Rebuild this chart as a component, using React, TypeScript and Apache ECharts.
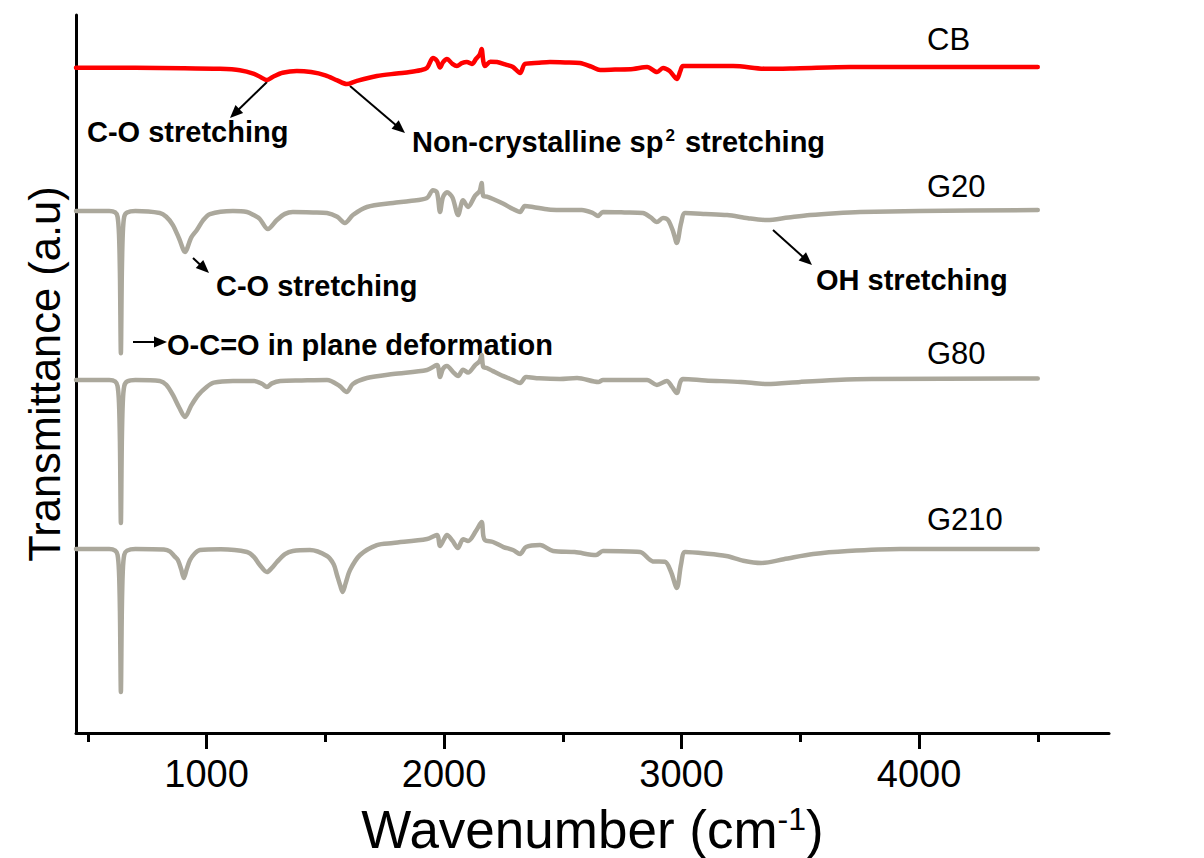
import React, { useEffect, useRef } from "react";
import * as echarts from "echarts";

// ---------- data ----------
const majorTicks = [1000, 2000, 3000, 4000];
const minorTicks = [500, 1500, 2500, 3500, 4500];
const seriesNames = ["CB", "G20", "G80", "G210"];

const cb: number[][] = [
  [450, 92.66], [700, 92.64], [900, 92.6], [1056, 92.5], [1140, 92.3], [1200, 91.8], [1230, 91.3],
  [1253, 90.95], [1280, 91.4], [1320, 91.95], [1380, 92.2], [1440, 92.05], [1500, 91.6], [1550, 90.9],
  [1590, 90.39], [1630, 90.8], [1717, 91.5], [1800, 91.85], [1856, 92.06], [1900, 92.3], [1928, 92.62],
  [1953, 94.0], [1970, 93.6], [1983, 92.7], [1995, 93.4], [2012, 93.87], [2035, 93.2], [2054, 92.9],
  [2075, 93.3], [2096, 93.45], [2117, 93.18], [2135, 93.9], [2150, 94.5], [2158, 95.26], [2165, 93.6],
  [2172, 92.9], [2195, 93.5], [2223, 93.45], [2260, 93.1], [2290, 92.76], [2320, 91.92], [2341, 93.18],
  [2400, 93.35], [2446, 93.45], [2510, 93.4], [2572, 93.31], [2620, 92.8], [2657, 92.34], [2720, 92.4],
  [2796, 92.48], [2855, 92.76], [2897, 92.06], [2922, 92.62], [2950, 92.2], [2980, 91.09], [2995, 92.2],
  [3006, 92.9], [3217, 92.9], [3360, 92.5], [3500, 92.6], [3710, 92.76], [4500, 92.76],
];

const g20: number[][] = [
  [450, 72.7], [590, 72.7], [615, 72.5], [625, 71.9], [631, 69.5], [635, 64], [639, 52.9], [643, 64],
  [647, 69.5], [653, 71.9], [665, 72.5], [700, 72.7], [803, 72.42], [830, 71.9], [858, 70.75],
  [885, 68.8], [909, 67.0], [935, 69.0], [959, 70.06], [985, 71.4], [1014, 72.28], [1111, 72.7],
  [1170, 72.56], [1200, 72.1], [1224, 71.59], [1258, 70.19], [1296, 71.45], [1330, 72.3], [1363, 72.56],
  [1450, 72.5], [1507, 72.42], [1550, 71.9], [1582, 71.03], [1616, 72.14], [1675, 73.26], [1785, 73.82],
  [1856, 74.09], [1928, 74.51], [1953, 75.6], [1970, 75.3], [1983, 72.56], [1995, 74.6], [2012, 75.3],
  [2035, 74.6], [2059, 72.14], [2080, 74.2], [2101, 73.26], [2130, 74.8], [2150, 75.5], [2158, 76.6],
  [2165, 74.8], [2180, 74.7], [2206, 74.37], [2250, 73.7], [2290, 72.98], [2320, 72.56], [2340, 73.4],
  [2374, 73.26], [2440, 72.9], [2488, 72.84], [2580, 72.84], [2627, 72.42], [2648, 72.01], [2669, 72.56],
  [2760, 72.5], [2837, 72.42], [2870, 71.8], [2896, 71.17], [2922, 71.73], [2943, 71.45], [2965, 69.8],
  [2980, 68.25], [2998, 71.0], [3015, 72.42], [3100, 72.3], [3192, 72.14], [3280, 71.7], [3360, 71.45],
  [3450, 71.8], [3541, 72.14], [3650, 72.4], [3752, 72.56], [4000, 72.7], [4500, 72.84],
];

const g80: number[][] = [
  [450, 49.16], [590, 49.16], [615, 48.95], [625, 48.3], [631, 46], [635, 40.5], [639, 29.25], [643, 40.5],
  [647, 46], [653, 48.3], [665, 48.95], [700, 49.16], [803, 49.03], [830, 48.5], [858, 47.08],
  [885, 45.3], [909, 44.01], [935, 45.6], [965, 47.08], [1000, 48.2], [1030, 48.8], [1111, 49.03],
  [1200, 49.03], [1235, 48.6], [1254, 48.19], [1275, 48.7], [1310, 49.03], [1400, 49.1], [1507, 49.16],
  [1560, 48.33], [1590, 47.49], [1616, 48.61], [1675, 49.44], [1785, 50.0], [1928, 50.56], [1970, 51.25],
  [1983, 49.58], [1995, 50.7], [2012, 51.11], [2040, 50.2], [2059, 49.72], [2080, 50.6], [2101, 50.2],
  [2130, 51.2], [2150, 51.8], [2158, 52.65], [2165, 51.0], [2180, 50.84], [2206, 50.4], [2250, 49.7],
  [2290, 49.16], [2320, 48.75], [2345, 49.58], [2400, 49.4], [2488, 49.3], [2560, 49.44], [2650, 48.89],
  [2669, 49.16], [2780, 49.16], [2855, 49.16], [2896, 48.47], [2938, 49.03], [2960, 48.2], [2980, 47.35],
  [2995, 48.9], [3006, 49.3], [3100, 49.1], [3250, 48.89], [3360, 48.61], [3500, 48.9], [3650, 49.16],
  [3800, 49.3], [4500, 49.37],
];

const g210: number[][] = [
  [450, 25.63], [590, 25.63], [615, 25.4], [625, 24.8], [631, 22.5], [635, 17], [639, 5.71], [643, 17],
  [647, 22.5], [653, 24.8], [665, 25.4], [700, 25.63], [820, 25.55], [845, 25.3], [865, 24.6],
  [879, 24.09], [893, 22.8], [904, 21.59], [916, 22.8], [930, 24.09], [950, 25.0], [972, 25.49],
  [1060, 25.6], [1170, 25.21], [1200, 24.5], [1224, 23.4], [1254, 22.42], [1275, 23.0], [1296, 23.82],
  [1330, 24.9], [1363, 25.35], [1435, 25.49], [1507, 24.65], [1535, 23.5], [1549, 22.01], [1563, 20.5],
  [1573, 19.64], [1585, 20.8], [1604, 22.7], [1646, 24.79], [1717, 26.18], [1785, 26.46], [1928, 27.02],
  [1970, 27.58], [1983, 26.04], [2000, 27.0], [2012, 27.58], [2035, 26.8], [2058, 25.77], [2080, 27.0],
  [2101, 26.74], [2134, 28.13], [2158, 29.39], [2165, 27.5], [2172, 26.88], [2206, 26.6], [2250, 25.9],
  [2290, 25.49], [2320, 24.93], [2345, 25.91], [2404, 26.18], [2459, 25.35], [2550, 25.2], [2640, 24.79],
  [2669, 25.35], [2825, 25.21], [2879, 23.9], [2930, 23.85], [2955, 22.5], [2980, 20.2], [2998, 23.5],
  [3015, 25.21], [3100, 25.0], [3188, 24.65], [3260, 24.0], [3335, 23.68], [3430, 24.2], [3554, 24.93],
  [3700, 25.35], [3920, 25.63], [4500, 25.63],
];

// ---------- styling ----------
const FONT = '"Liberation Sans", Arial, Helvetica, sans-serif';
const RED = "#ff0000";
const GRAY = "#aba89c";

function arrow(x1: number, y1: number, x2: number, y2: number) {
  const dx = x2 - x1;
  const dy = y2 - y1;
  const len = Math.hypot(dx, dy);
  const ux = dx / len;
  const uy = dy / len;
  const hl = 13;
  const hw = 5.5;
  const bx = x2 - ux * hl;
  const by = y2 - uy * hl;
  const px = -uy;
  const py = ux;
  return [
    { type: "line", shape: { x1, y1, x2: bx + ux * 2, y2: by + uy * 2 }, style: { stroke: "#000", lineWidth: 2 } },
    {
      type: "polygon",
      shape: { points: [[x2, y2], [bx + px * hw, by + py * hw], [bx - px * hw, by - py * hw]] },
      style: { fill: "#000" },
    },
  ];
}

function label(text: string, x: number, baseline: number, size: number, bold: boolean) {
  return {
    type: "text",
    x,
    y: baseline - 0.35 * size,
    style: {
      text,
      fill: "#000",
      font: `${bold ? "bold " : ""}${size}px ${FONT}`,
      align: "left",
      verticalAlign: "middle",
    },
  };
}

export default function App() {
  const ref = useRef<HTMLDivElement>(null);
  useEffect(() => {
    if (!ref.current) return;
    const chart = echarts.init(ref.current, null, { renderer: "svg" });
    const lineSeries = [cb, g20, g80, g210].map((d, i) => ({
      name: seriesNames[i],
      type: "line",
      data: d,
      xAxisIndex: 0,
      yAxisIndex: 0,
      showSymbol: false,
      symbol: "none",
      smooth: 0.3,
      lineStyle: { color: i === 0 ? RED : GRAY, width: 4.5, cap: "round", join: "round" },
      itemStyle: { color: i === 0 ? RED : GRAY },
      z: 2,
    }));

    const graphics: any[] = [
      label("CB", 927, 50, 31, false),
      label("G20", 927, 197, 31, false),
      label("G80", 927, 364, 31, false),
      label("G210", 927, 530, 31, false),
      label("C-O stretching", 87, 142, 29, true),
      {
        type: "text",
        x: 412,
        y: 152 - 0.35 * 29,
        style: {
          text: "{a|Non-crystalline sp}{s|2}{a| stretching}",
          fill: "#000",
          align: "left",
          verticalAlign: "middle",
          rich: {
            a: { fontSize: 29, fontWeight: "bold", fontFamily: FONT, fill: "#000" },
            s: { fontSize: 17, fontWeight: "bold", fontFamily: FONT, fill: "#000", verticalAlign: "top", padding: [0, 2, 0, 2] },
          },
        },
      },
      label("C-O stretching", 216, 296, 29, true),
      label("O-C=O in plane deformation", 167, 355, 29, true),
      label("OH stretching", 816, 290, 29, true),
      ...arrow(267, 82, 230, 118),
      ...arrow(350, 86, 405, 133),
      ...arrow(193, 258, 209, 273),
      ...arrow(133, 342, 167, 342),
      ...arrow(773, 230, 812, 265),
    ];

    chart.setOption({
      animation: false,
      backgroundColor: "#ffffff",
      grid: { left: 76, right: 95, top: 15, bottom: 125, outerBoundsMode: "none", containLabel: false },
      xAxis: [
        {
          type: "value",
          position: "bottom",
          min: 450,
          max: 4800,
          name: "{a|Wavenumber (cm}{s|-1}{a|)}",
          nameLocation: "middle",
          nameGap: 70,
          nameMoveOverlap: false,
          nameTextStyle: {
            rich: {
              a: { fontSize: 53, fontFamily: FONT, color: "#000" },
              s: { fontSize: 32, fontFamily: FONT, color: "#000", verticalAlign: "top" },
            },
          },
          axisLine: { show: true, lineStyle: { color: "#000", width: 3 } },
          axisTick: { show: true, customValues: majorTicks, length: 16, inside: false, lineStyle: { color: "#000", width: 3 } },
          axisLabel: {
            show: true,
            customValues: majorTicks,
            margin: 22,
            fontSize: 38,
            fontFamily: FONT,
            color: "#000",
            hideOverlap: false,
            formatter: (v: number) => String(Math.round(v)),
          },
          splitLine: { show: false },
          minorTick: { show: false },
        },
        {
          type: "value",
          position: "bottom",
          min: 450,
          max: 4800,
          axisLine: { show: false },
          axisTick: { show: true, customValues: minorTicks, length: 9, inside: false, lineStyle: { color: "#000", width: 3 } },
          axisLabel: { show: false },
          splitLine: { show: false },
        },
      ],
      yAxis: {
        type: "value",
        min: 0,
        max: 100,
        name: "Transmittance (a.u)",
        nameLocation: "middle",
        nameGap: 9,
        nameTextStyle: { fontSize: 43.5, fontFamily: FONT, color: "#000" },
        axisLine: { show: true, lineStyle: { color: "#000", width: 3 } },
        axisTick: { show: false },
        axisLabel: { show: false },
        splitLine: { show: false },
      },
      series: lineSeries,
      graphic: graphics,
    });
    return () => chart.dispose();
  }, []);
  return (
    <div
      ref={ref}
      style={{ position: "absolute", left: 0, top: 0, width: 1204, height: 858, background: "#fff" }}
    />
  );
}
